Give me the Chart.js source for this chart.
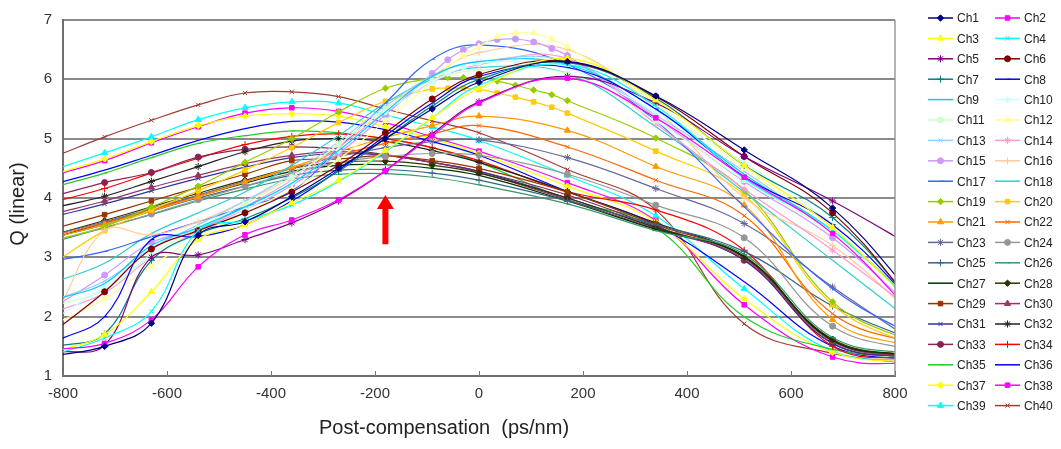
<!DOCTYPE html>
<html>
<head>
<meta charset="utf-8">
<title>Q vs post-compensation</title>
<script src="https://cdn.jsdelivr.net/npm/chart.js@4.4.0/dist/chart.umd.min.js"></script>
<style>
  html, body { margin: 0; padding: 0; background: #fff; }
  #wrap { width: 1061px; height: 449px; position: relative; }
</style>
</head>
<body>
<div id="wrap"><canvas id="chart" width="1061" height="449"></canvas></div>
<script>
// x positions (ps/nm) where the channels were measured
const xCoarse = [-810, -720, -630, -540, -450, -360, -270, -180, -90, 0, 170, 340, 510, 680, 850];
const xFine = [-810, -720, -630, -540, -450, -360, -270, -180, -90, -60, -30, 0, 35, 70, 105, 140, 170, 340, 510, 680, 850];
const xTicks = [-800, -600, -400, -200, 0, 200, 400, 600, 800];
const yTicks = [1, 2, 3, 4, 5, 6, 7];

// Q (linear) per channel
const ch1 = [1.35, 1.50, 1.89, 3.37, 3.60, 4.02, 4.50, 5.00, 5.50, 5.95, 6.30, 5.72, 4.81, 3.83, 2.20];
const ch2 = [1.45, 1.55, 1.95, 2.84, 3.38, 3.63, 3.97, 4.46, 5.05, 5.60, 6.02, 5.35, 4.35, 3.40, 1.90];
const ch3 = [1.42, 1.70, 2.42, 3.30, 3.55, 3.92, 4.30, 4.80, 5.35, 5.85, 6.35, 5.65, 4.55, 3.50, 2.05];
const ch4 = [1.38, 1.64, 2.09, 3.45, 3.62, 3.88, 4.28, 4.78, 5.35, 5.90, 6.25, 5.55, 4.33, 3.45, 2.10];
const ch5 = [1.40, 1.52, 3.00, 3.04, 3.30, 3.58, 3.95, 4.46, 5.08, 5.62, 6.05, 5.60, 4.70, 3.95, 3.10];
const ch6 = [1.80, 2.42, 3.14, 3.45, 3.75, 4.10, 4.55, 5.10, 5.67, 6.08, 6.30, 5.71, 4.70, 3.75, 2.05];
const ch7 = [1.50, 1.71, 2.95, 3.40, 3.65, 4.00, 4.45, 5.00, 5.55, 6.00, 6.28, 5.68, 4.55, 3.67, 2.10];
const ch8 = [1.60, 2.00, 3.30, 3.35, 3.55, 3.95, 4.47, 5.05, 5.60, 6.05, 6.20, 5.50, 4.36, 3.55, 2.10];
const ch9 = [2.30, 2.56, 3.20, 3.50, 3.85, 4.25, 4.80, 5.45, 6.05, 6.30, 6.25, 5.50, 4.40, 3.45, 2.10];
const ch10 = [2.00, 2.50, 3.00, 3.40, 3.80, 4.25, 4.80, 5.45, 5.95, 6.10, 6.20, 6.27, 6.30, 6.30, 6.30, 6.28, 6.22, 5.45, 4.60, 3.55, 2.20];
const ch11 = [2.20, 2.45, 3.05, 3.50, 3.90, 4.35, 4.90, 5.50, 5.98, 6.15, 6.10, 5.30, 4.30, 3.40, 2.15];
const ch12 = [1.90, 2.30, 2.85, 3.35, 3.75, 4.15, 4.65, 5.30, 5.95, 6.20, 6.40, 6.55, 6.72, 6.78, 6.78, 6.68, 6.55, 5.60, 4.50, 3.45, 2.20];
const ch13 = [2.30, 2.60, 3.15, 3.55, 3.95, 4.40, 4.95, 5.55, 6.05, 6.30, 6.30, 5.40, 4.45, 3.40, 2.20];
const ch14 = [2.10, 2.40, 3.00, 3.45, 3.85, 4.30, 4.85, 5.45, 5.95, 6.25, 6.35, 5.25, 4.15, 3.12, 2.00];
const ch15 = [2.20, 2.70, 3.25, 3.47, 3.80, 4.21, 4.75, 5.40, 6.10, 6.33, 6.50, 6.60, 6.67, 6.68, 6.63, 6.52, 6.40, 5.36, 4.28, 3.33, 2.00];
const ch16 = [2.10, 3.45, 3.38, 3.60, 3.95, 4.35, 4.90, 5.50, 6.05, 6.45, 6.50, 5.50, 4.00, 3.20, 1.90];
const ch17 = [2.95, 3.10, 3.35, 3.60, 3.85, 4.12, 4.84, 5.60, 6.34, 6.58, 6.25, 5.30, 3.85, 2.47, 1.60];
const ch18 = [2.60, 2.90, 3.40, 3.75, 4.10, 4.55, 5.05, 5.60, 6.00, 6.20, 6.10, 5.20, 4.10, 2.95, 1.80];
const ch19 = [3.30, 3.52, 3.85, 4.20, 4.60, 5.00, 5.45, 5.85, 6.02, 6.03, 6.03, 6.02, 5.97, 5.90, 5.82, 5.74, 5.64, 5.01, 4.13, 2.25, 1.50];
const ch20 = [2.95, 3.45, 3.80, 4.12, 4.47, 4.85, 5.27, 5.63, 5.84, 5.85, 5.85, 5.83, 5.77, 5.70, 5.62, 5.53, 5.43, 4.79, 4.05, 2.20, 1.45];
const ch21 = [3.35, 3.55, 3.78, 4.02, 4.27, 4.52, 4.78, 5.02, 5.22, 5.38, 5.14, 4.53, 3.88, 1.95, 1.45];
const ch22 = [3.38, 3.58, 3.80, 4.03, 4.27, 4.50, 4.72, 4.92, 5.08, 5.22, 4.86, 4.30, 3.70, 2.05, 1.50];
const ch23 = [3.40, 3.60, 3.82, 4.05, 4.28, 4.50, 4.70, 4.85, 4.95, 4.98, 4.68, 4.16, 3.57, 2.50, 1.50];
const ch24 = [3.30, 3.50, 3.73, 3.97, 4.20, 4.42, 4.60, 4.70, 4.75, 4.72, 4.40, 3.88, 3.33, 1.84, 1.40];
const ch25 = [3.35, 3.55, 3.78, 4.00, 4.20, 4.38, 4.47, 4.48, 4.42, 4.30, 3.95, 3.55, 3.10, 2.18, 1.55];
const ch26 = [3.28, 3.50, 3.72, 3.95, 4.15, 4.32, 4.40, 4.41, 4.35, 4.22, 3.90, 3.45, 3.05, 1.65, 1.35];
const ch27 = [3.35, 3.58, 3.80, 4.03, 4.25, 4.45, 4.55, 4.56, 4.50, 4.38, 3.95, 3.47, 3.02, 1.60, 1.33];
const ch28 = [3.40, 3.62, 3.85, 4.08, 4.30, 4.50, 4.60, 4.62, 4.55, 4.42, 4.00, 3.50, 3.00, 1.62, 1.32];
const ch29 = [3.50, 3.72, 3.95, 4.18, 4.40, 4.63, 4.66, 4.71, 4.63, 4.50, 4.10, 3.55, 3.00, 1.60, 1.32];
const ch30 = [3.75, 3.95, 4.18, 4.38, 4.58, 4.72, 4.78, 4.72, 4.60, 4.43, 3.97, 3.48, 2.97, 1.58, 1.30];
const ch31 = [3.70, 3.90, 4.12, 4.33, 4.52, 4.68, 4.75, 4.72, 4.60, 4.45, 4.00, 3.50, 2.95, 1.55, 1.30];
const ch32 = [3.85, 4.03, 4.28, 4.53, 4.78, 4.96, 5.00, 4.95, 4.80, 4.60, 4.11, 3.58, 3.00, 1.60, 1.30];
const ch33 = [4.05, 4.26, 4.43, 4.69, 4.82, 4.86, 4.83, 4.73, 4.60, 4.45, 4.05, 3.52, 2.95, 1.55, 1.30];
const ch34 = [3.95, 4.16, 4.42, 4.67, 4.90, 5.04, 5.08, 5.00, 4.85, 4.63, 4.11, 3.80, 3.12, 1.50, 1.28];
const ch35 = [4.20, 4.42, 4.68, 4.92, 5.05, 5.13, 5.10, 5.00, 4.85, 4.60, 3.97, 3.50, 2.00, 1.45, 1.30];
const ch36 = [4.25, 4.47, 4.72, 4.97, 5.17, 5.29, 5.28, 5.15, 4.95, 4.72, 4.11, 3.55, 2.59, 1.50, 1.25];
const ch37 = [4.42, 4.66, 4.95, 5.22, 5.38, 5.42, 5.38, 5.20, 5.00, 4.75, 4.20, 3.60, 2.30, 1.40, 1.22];
const ch38 = [4.40, 4.63, 4.93, 5.20, 5.43, 5.52, 5.46, 5.27, 5.03, 4.79, 4.26, 3.62, 2.20, 1.32, 1.20];
const ch39 = [4.50, 4.76, 5.03, 5.32, 5.52, 5.62, 5.60, 5.40, 5.20, 4.97, 4.38, 3.70, 2.47, 1.42, 1.25];
const ch40 = [4.72, 5.03, 5.31, 5.57, 5.77, 5.79, 5.71, 5.50, 5.30, 5.10, 4.48, 3.80, 1.88, 1.38, 1.20];

const channels = [ch1, ch2, ch3, ch4, ch5, ch6, ch7, ch8, ch9, ch10, ch11, ch12, ch13, ch14, ch15, ch16, ch17, ch18, ch19, ch20,
  ch21, ch22, ch23, ch24, ch25, ch26, ch27, ch28, ch29, ch30, ch31, ch32, ch33, ch34, ch35, ch36, ch37, ch38, ch39, ch40];

// arrow marking the chosen post-compensation
const arrowAt = { x: -180, tip: 4.05, tail: 3.22 };

// excel-like colours, marker cycle of 9
const colors = ['#000080', '#ff00ff', '#ffff00', '#00ffff', '#800080', '#800000', '#008080', '#0000ff',
  '#00ccff', '#ccffff', '#ccffcc', '#ffff99', '#99ccff', '#ff99cc', '#cc99ff', '#ffcc99', '#3366ff', '#33cccc',
  '#99cc00', '#ffcc00', '#ff9900', '#ff6600', '#666699', '#969696', '#336688', '#339966', '#003300', '#333300',
  '#993300', '#993366', '#333399', '#222222', '#8b2252', '#ff0000', '#22cc22', '#0000ff', '#ffff00', '#ff00ff',
  '#00ffff', '#a03c32'];
const markerCycle = ['rectRot', 'rect', 'triangle', 'crossRot', 'star', 'circle', 'cross', 'dash', null];
const markerSize = { rectRot: 3.2, rect: 3.2, triangle: 3.6, crossRot: 3, star: 3.6, circle: 3, cross: 3.5, dash: 3 };

const FONT = '"Liberation Sans", Arial, sans-serif';

const datasets = channels.map((vals, i) => {
  const xs = vals.length === xFine.length ? xFine : xCoarse;
  const marker = markerCycle[i % 9];
  return {
    label: 'Ch' + (i + 1),
    data: xs.map((x, k) => ({ x: x, y: vals[k] })),
    borderColor: colors[i],
    backgroundColor: colors[i],
    pointBackgroundColor: colors[i],
    pointBorderColor: colors[i],
    pointStyle: marker || 'circle',
    pointRadius: marker ? markerSize[marker] : 0,
    pointHoverRadius: 0,
    pointBorderWidth: 1,
    borderWidth: 1.2,
    tension: 0.4,
    fill: false
  };
});

function drawMark(ctx, style, r, x, y) {
  if (Chart.helpers && Chart.helpers.drawPoint) {
    Chart.helpers.drawPoint(ctx, { pointStyle: style, rotation: 0, radius: r, borderWidth: 1 }, x, y);
  } else {
    ctx.beginPath();
    ctx.arc(x, y, r, 0, Math.PI * 2);
    ctx.fill();
  }
}

const extras = {
  id: 'extras',
  afterDatasetsDraw(chart) {
    const { ctx, chartArea: a, scales } = chart;
    const xs = scales.x, ys = scales.y;
    ctx.save();

    // right frame line
    ctx.strokeStyle = '#9a9a9a';
    ctx.lineWidth = 1.5;
    ctx.beginPath();
    ctx.moveTo(a.right, a.top);
    ctx.lineTo(a.right, a.bottom);
    ctx.stroke();

    // small inside tick marks on x axis
    ctx.strokeStyle = '#777';
    ctx.lineWidth = 1;
    xTicks.forEach(v => {
      const px = Math.round(xs.getPixelForValue(v)) + 0.5;
      ctx.beginPath();
      ctx.moveTo(px, a.bottom);
      ctx.lineTo(px, a.bottom - 5);
      ctx.stroke();
    });

    // red arrow
    const ax = xs.getPixelForValue(arrowAt.x);
    const tip = ys.getPixelForValue(arrowAt.tip);
    const tail = ys.getPixelForValue(arrowAt.tail);
    ctx.fillStyle = '#ff0000';
    ctx.beginPath();
    ctx.moveTo(ax, tip);
    ctx.lineTo(ax + 8.5, tip + 14);
    ctx.lineTo(ax + 3, tip + 14);
    ctx.lineTo(ax + 3, tail);
    ctx.lineTo(ax - 3, tail);
    ctx.lineTo(ax - 3, tip + 14);
    ctx.lineTo(ax - 8.5, tip + 14);
    ctx.closePath();
    ctx.fill();
    ctx.restore();
  },
  afterDraw(chart) {
    const { ctx } = chart;
    ctx.save();

    // axis titles
    ctx.fillStyle = '#222';
    ctx.font = '20px ' + FONT;
    ctx.textAlign = 'center';
    ctx.textBaseline = 'middle';
    ctx.fillText('Post-compensation  (ps/nm)', 444, 428);
    ctx.save();
    ctx.translate(18, 204);
    ctx.rotate(-Math.PI / 2);
    ctx.fillText('Q (linear)', 0, 0);
    ctx.restore();

    // two-column legend, row-major like the original
    ctx.font = '12px ' + FONT;
    ctx.textAlign = 'left';
    chart.data.datasets.forEach((ds, i) => {
      const col = i % 2, row = Math.floor(i / 2);
      const x0 = col === 0 ? 928 : 995;
      const y0 = 18 + row * 20.4;
      ctx.strokeStyle = ds.borderColor;
      ctx.fillStyle = ds.borderColor;
      ctx.lineWidth = 1.5;
      ctx.beginPath();
      ctx.moveTo(x0, y0);
      ctx.lineTo(x0 + 25, y0);
      ctx.stroke();
      if (ds.pointRadius > 0) {
        ctx.lineWidth = 1;
        drawMark(ctx, ds.pointStyle, ds.pointRadius, x0 + 12.5, y0);
      }
      ctx.fillStyle = '#222';
      ctx.fillText(ds.label, x0 + 29, y0 + 1);
    });
    ctx.restore();
  }
};

new Chart(document.getElementById('chart'), {
  type: 'line',
  data: { datasets: datasets },
  options: {
    responsive: false,
    animation: false,
    events: [],
    layout: { padding: { left: 0, right: 166, top: 14, bottom: 0 } },
    plugins: { legend: { display: false }, tooltip: { enabled: false } },
    scales: {
      x: {
        type: 'linear',
        min: -800,
        max: 800,
        afterBuildTicks: s => { s.ticks = xTicks.map(v => ({ value: v })); },
        afterFit: s => { s.height = 73; },
        ticks: { color: '#333', font: { family: FONT, size: 15 }, padding: 9, maxRotation: 0 },
        grid: { display: false, drawTicks: false },
        border: { display: true, color: '#6e6e6e', width: 2 }
      },
      y: {
        type: 'linear',
        min: 1,
        max: 7,
        afterBuildTicks: s => { s.ticks = yTicks.map(v => ({ value: v })); },
        afterFit: s => { s.width = 63; },
        ticks: { color: '#333', font: { family: FONT, size: 15 }, padding: 11 },
        grid: { color: '#8a8a8a', lineWidth: 2, drawTicks: false },
        border: { display: true, color: '#6e6e6e', width: 2 }
      }
    }
  },
  plugins: [extras]
});
</script>
</body>
</html>
